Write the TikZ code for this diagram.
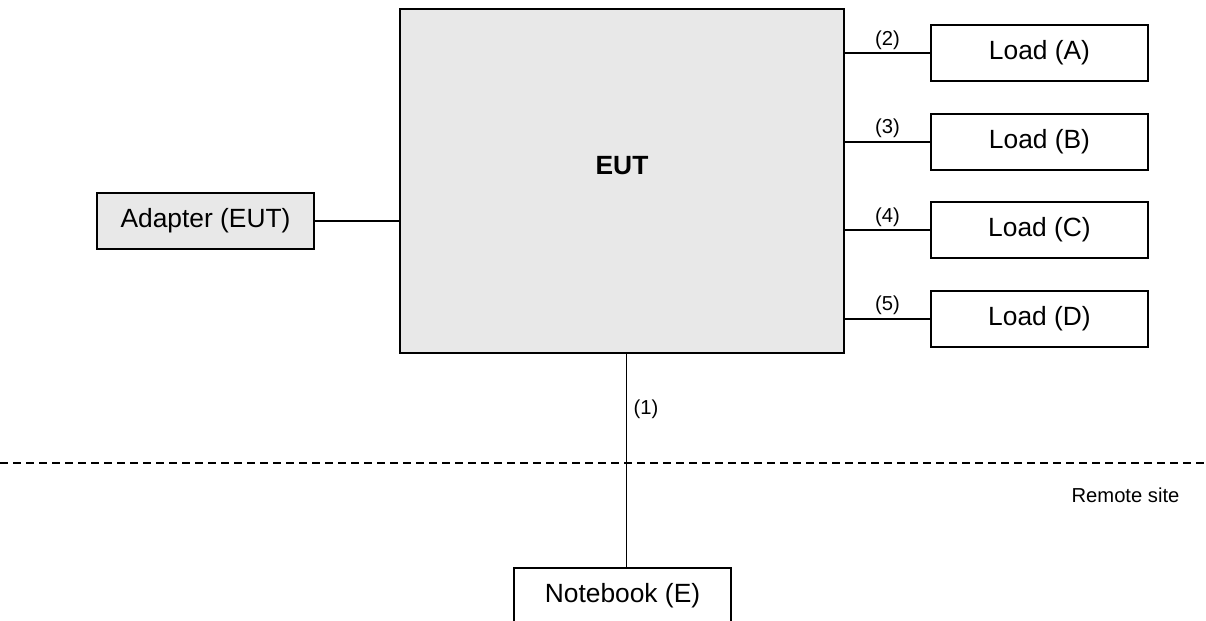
\documentclass[tikz,border=0pt]{standalone}
\usepackage{fontspec}
\setmainfont{Liberation Sans}
\usetikzlibrary{positioning}
\definecolor{eutgray}{RGB}{232,232,232}

\begin{document}
\begin{tikzpicture}[line width=1.1pt,
    box/.style={rectangle, draw, minimum width=4.34cm, minimum height=1.12cm, font=\fontsize{15}{18}\selectfont},
    graybox/.style={box, fill=eutgray},
    portlabel/.style={font=\fontsize{11.5}{14}\selectfont, inner sep=1.5pt}]
    \useasboundingbox (0,0) rectangle (24.12,-12.4);
    \node [rectangle, draw, fill=eutgray, minimum width=8.88cm, minimum height=6.88cm,
           label={[yshift=0.3cm, font=\fontsize{15}{18}\selectfont\bfseries]center:EUT}] (eut) at (12.44,-3.62) {};
    \node [graybox] (adapter) at (4.11,-4.42) {Adapter (EUT)};
    \node [box] (loadA) at (20.79,-1.06) {Load (A)};
    \node [box, below=0.613cm of loadA] (loadB) {Load (B)};
    \node [box, below=0.613cm of loadB] (loadC) {Load (C)};
    \node [box, below=0.613cm of loadC] (loadD) {Load (D)};
    \node [box] (notebook) at (12.45,-11.92) {Notebook (E)};
    \node [portlabel] (remote) at (22.51,-9.9) {Remote site};
    \coordinate (sepL) at (0,-9.26);
    \coordinate (sepR) at (24.12,-9.26);
    \coordinate (link) at ([xshift=0.08cm]notebook.north);
    \draw (adapter) -- (adapter -| eut.west);
    \draw (loadA.west -| eut.east) -- node[portlabel, above] {(2)} (loadA.west);
    \draw (loadB.west -| eut.east) -- node[portlabel, above] {(3)} (loadB.west);
    \draw (loadC.west -| eut.east) -- node[portlabel, above] {(4)} (loadC.west);
    \draw (loadD.west -| eut.east) -- node[portlabel, above] {(5)} (loadD.west);
    \draw (eut.south -| link) -- node[portlabel, pos=0.26, right=2pt] {(1)} (link);
    \draw [dash pattern=on 0.16cm off 0.1cm] (sepL) -- (sepR);
\end{tikzpicture}
\end{document}
